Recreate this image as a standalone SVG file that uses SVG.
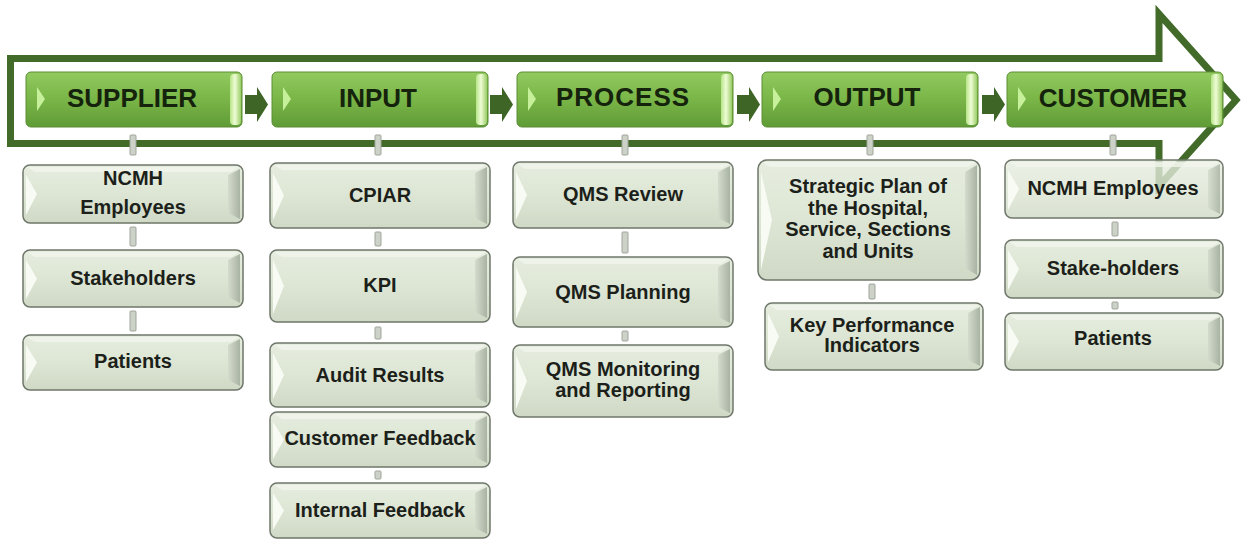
<svg xmlns="http://www.w3.org/2000/svg" xmlns:xlink="http://www.w3.org/1999/xlink" width="1245" height="541" viewBox="0 0 1245 541">
  <style>
    .frame { fill: none; stroke: #426b2a; stroke-width: 7; stroke-linejoin: miter; }
    .step-arrow { fill: #3f6526; }
    .hdr-face { fill: url(#hdrFace); stroke: #5b8d35; stroke-width: 1; }
    .hdr-tri { fill: #c6f099; }
    .hdr-cap { fill: url(#hdrCap); }
    .hdr-text { font-family: "Liberation Sans", Arial, sans-serif; font-weight: bold; font-size: 26px; fill: #15230d; text-anchor: middle; }
    .box-face { fill: url(#subFace); stroke: #6f776a; stroke-width: 1.5; }
    .box-tri { fill: #f8fbf4; }
    .box-right { fill: url(#subRight); }
    .box-top { fill: #f1f5ec; opacity: 0.8; }
    .box-text { font-family: "Liberation Sans", Arial, sans-serif; font-weight: bold; font-size: 20px; fill: #1c1f1a; text-anchor: middle; }
    .link { fill: #cdd2c9; stroke: #9fa59b; stroke-width: 1; }
  </style>
  <defs>
    <linearGradient id="hdrFace" x1="0" y1="0" x2="0" y2="1">
      <stop offset="0" stop-color="#92ca60"/>
      <stop offset="0.5" stop-color="#79b547"/>
      <stop offset="1" stop-color="#609c37"/>
    </linearGradient>
    <linearGradient id="hdrCap" x1="0" y1="0" x2="1" y2="0">
      <stop offset="0" stop-color="#b7e487"/>
      <stop offset="0.45" stop-color="#eefcd6"/>
      <stop offset="1" stop-color="#9bcd66"/>
    </linearGradient>
    <linearGradient id="subFace" x1="0" y1="0" x2="0" y2="1">
      <stop offset="0" stop-color="#e6ede0"/>
      <stop offset="0.5" stop-color="#dde6d4"/>
      <stop offset="1" stop-color="#cfd9c6"/>
    </linearGradient>
    <linearGradient id="subRight" x1="0" y1="0" x2="1" y2="0">
      <stop offset="0" stop-color="#d4dccd"/>
      <stop offset="1" stop-color="#a9b3a3"/>
    </linearGradient>
    <!-- green header tile, 216 x 55 -->
    <g id="hdr">
      <rect class="hdr-face" x="0" y="0" width="216" height="55" rx="5"/>
      <polygon class="hdr-tri" points="11,15 19,27 11,39"/>
      <rect class="hdr-cap" x="204" y="2" width="11" height="51" rx="4"/>
    </g>
    <!-- small step arrow between header tiles -->
    <polygon id="stepArrow" points="0,95 12,95 12,87 23,104.5 12,122 12,114 0,114"/>
  </defs>

  <!-- big process arrow outline -->
  <path class="frame" d="M10.5,58.5 H1159 V14 L1236,100 L1159,186 V143.5 H10.5 Z"/>

  <!-- connectors -->
  <g id="connectors">
    <use xlink:href="#stepArrow" class="step-arrow" x="245" y="0"/>
    <use xlink:href="#stepArrow" class="step-arrow" x="490" y="0"/>
    <use xlink:href="#stepArrow" class="step-arrow" x="737" y="0"/>
    <use xlink:href="#stepArrow" class="step-arrow" x="982" y="0"/>
    <!-- header to first item -->
    <rect class="link" x="130" y="135" width="6" height="20" rx="1"/>
    <rect class="link" x="375" y="135" width="6" height="20" rx="1"/>
    <rect class="link" x="622" y="135" width="6" height="20" rx="1"/>
    <rect class="link" x="867" y="135" width="6" height="20" rx="1"/>
    <rect class="link" x="1110" y="135" width="6" height="20" rx="1"/>
    <!-- supplier column -->
    <rect class="link" x="130" y="227" width="6" height="19" rx="1"/>
    <rect class="link" x="130" y="311" width="6" height="20" rx="1"/>
    <!-- input column -->
    <rect class="link" x="375" y="232" width="6" height="14" rx="1"/>
    <rect class="link" x="375" y="327" width="6" height="12" rx="1"/>
    <rect class="link" x="375" y="471" width="6" height="8" rx="1"/>
    <!-- process column -->
    <rect class="link" x="622" y="232" width="6" height="21" rx="1"/>
    <rect class="link" x="622" y="331" width="6" height="10" rx="1"/>
    <!-- output column -->
    <rect class="link" x="869" y="284" width="6" height="15" rx="1"/>
    <!-- customer column -->
    <rect class="link" x="1112" y="222" width="6" height="14" rx="1"/>
    <rect class="link" x="1112" y="302" width="6" height="7" rx="1"/>
  </g>

  <!-- header tiles -->
  <g id="supplier">
    <use xlink:href="#hdr" x="26" y="72"/>
    <text class="hdr-text" x="132" y="107">SUPPLIER</text>
  </g>
  <g id="input">
    <use xlink:href="#hdr" x="272" y="72"/>
    <text class="hdr-text" x="378" y="107">INPUT</text>
  </g>
  <g id="process">
    <use xlink:href="#hdr" x="517" y="72"/>
    <text class="hdr-text" x="623" y="106" letter-spacing="1">PROCESS</text>
  </g>
  <g id="output">
    <use xlink:href="#hdr" x="762" y="72"/>
    <text class="hdr-text" x="867" y="106">OUTPUT</text>
  </g>
  <g id="customer">
    <use xlink:href="#hdr" x="1007" y="72"/>
    <text class="hdr-text" x="1113" y="107">CUSTOMER</text>
  </g>

  <!-- supplier items -->
  <g id="sup-employees" transform="translate(23,165)">
    <rect class="box-face" width="220" height="58" rx="7"/>
    <polygon class="box-top" points="4,2 216,2 208,7 12,7"/>
    <polygon class="box-tri" points="3,10 14,29 3,50"/>
    <polygon class="box-right" points="217,4 205,10 205,48 217,54"/>
    <text class="box-text" x="110" y="20">NCMH</text>
    <text class="box-text" x="110" y="49">Employees</text>
  </g>
  <g id="sup-stakeholders" transform="translate(23,250)">
    <rect class="box-face" width="220" height="57" rx="7"/>
    <polygon class="box-top" points="4,2 216,2 208,7 12,7"/>
    <polygon class="box-tri" points="3,10 14,28.5 3,49"/>
    <polygon class="box-right" points="217,4 205,10 205,47 217,53"/>
    <text class="box-text" x="110" y="35">Stakeholders</text>
  </g>
  <g id="sup-patients" transform="translate(23,335)">
    <rect class="box-face" width="220" height="55" rx="7"/>
    <polygon class="box-top" points="4,2 216,2 208,7 12,7"/>
    <polygon class="box-tri" points="3,10 14,27.5 3,47"/>
    <polygon class="box-right" points="217,4 205,10 205,45 217,51"/>
    <text class="box-text" x="110" y="33">Patients</text>
  </g>

  <!-- input items -->
  <g id="in-cpiar" transform="translate(270,163)">
    <rect class="box-face" width="220" height="65" rx="7"/>
    <polygon class="box-top" points="4,2 216,2 208,7 12,7"/>
    <polygon class="box-tri" points="3,10 14,32.5 3,57"/>
    <polygon class="box-right" points="217,4 205,10 205,55 217,61"/>
    <text class="box-text" x="110" y="39">CPIAR</text>
  </g>
  <g id="in-kpi" transform="translate(270,250)">
    <rect class="box-face" width="220" height="72" rx="7"/>
    <polygon class="box-top" points="4,2 216,2 208,7 12,7"/>
    <polygon class="box-tri" points="3,10 14,36 3,64"/>
    <polygon class="box-right" points="217,4 205,10 205,62 217,68"/>
    <text class="box-text" x="110" y="42">KPI</text>
  </g>
  <g id="in-audit" transform="translate(270,343)">
    <rect class="box-face" width="220" height="64" rx="7"/>
    <polygon class="box-top" points="4,2 216,2 208,7 12,7"/>
    <polygon class="box-tri" points="3,10 14,32 3,56"/>
    <polygon class="box-right" points="217,4 205,10 205,54 217,60"/>
    <text class="box-text" x="110" y="39">Audit Results</text>
  </g>
  <g id="in-customer-feedback" transform="translate(270,412)">
    <rect class="box-face" width="220" height="55" rx="7"/>
    <polygon class="box-top" points="4,2 216,2 208,7 12,7"/>
    <polygon class="box-tri" points="3,10 14,27.5 3,47"/>
    <polygon class="box-right" points="217,4 205,10 205,45 217,51"/>
    <text class="box-text" x="110" y="33">Customer Feedback</text>
  </g>
  <g id="in-internal-feedback" transform="translate(270,483)">
    <rect class="box-face" width="220" height="55" rx="7"/>
    <polygon class="box-top" points="4,2 216,2 208,7 12,7"/>
    <polygon class="box-tri" points="3,10 14,27.5 3,47"/>
    <polygon class="box-right" points="217,4 205,10 205,45 217,51"/>
    <text class="box-text" x="110" y="34">Internal Feedback</text>
  </g>

  <!-- process items -->
  <g id="pr-review" transform="translate(513,162)">
    <rect class="box-face" width="220" height="66" rx="7"/>
    <polygon class="box-top" points="4,2 216,2 208,7 12,7"/>
    <polygon class="box-tri" points="3,10 14,33 3,58"/>
    <polygon class="box-right" points="217,4 205,10 205,56 217,62"/>
    <text class="box-text" x="110" y="39">QMS Review</text>
  </g>
  <g id="pr-planning" transform="translate(513,257)">
    <rect class="box-face" width="220" height="70" rx="7"/>
    <polygon class="box-top" points="4,2 216,2 208,7 12,7"/>
    <polygon class="box-tri" points="3,10 14,35 3,62"/>
    <polygon class="box-right" points="217,4 205,10 205,60 217,66"/>
    <text class="box-text" x="110" y="42">QMS Planning</text>
  </g>
  <g id="pr-monitoring" transform="translate(513,345)">
    <rect class="box-face" width="220" height="72" rx="7"/>
    <polygon class="box-top" points="4,2 216,2 208,7 12,7"/>
    <polygon class="box-tri" points="3,10 14,36 3,64"/>
    <polygon class="box-right" points="217,4 205,10 205,62 217,68"/>
    <text class="box-text" x="110" y="31">QMS Monitoring</text>
    <text class="box-text" x="110" y="52">and Reporting</text>
  </g>

  <!-- output items -->
  <g id="out-strategic-plan" transform="translate(758,160)">
    <rect class="box-face" width="222" height="120" rx="9"/>
    <polygon class="box-top" points="4,2 218,2 210,7 12,7"/>
    <polygon class="box-tri" points="3,12 14,60 3,110"/>
    <polygon class="box-right" points="219,5 207,12 207,108 219,115"/>
    <text class="box-text" x="110" y="33">Strategic Plan of</text>
    <text class="box-text" x="110" y="54.5">the Hospital,</text>
    <text class="box-text" x="110" y="76">Service, Sections</text>
    <text class="box-text" x="110" y="97.5">and Units</text>
  </g>
  <g id="out-kpi" transform="translate(765,303)">
    <rect class="box-face" width="218" height="67" rx="7"/>
    <polygon class="box-top" points="4,2 214,2 206,7 12,7"/>
    <polygon class="box-tri" points="3,10 14,33.5 3,59"/>
    <polygon class="box-right" points="215,4 203,10 203,57 215,63"/>
    <text class="box-text" x="107" y="29">Key Performance</text>
    <text class="box-text" x="107" y="49">Indicators</text>
  </g>

  <!-- customer items -->
  <g id="cu-employees" transform="translate(1005,160)">
    <rect class="box-face" width="218" height="58" rx="7" fill-opacity="0.8"/>
    <polygon class="box-top" points="4,2 214,2 206,7 12,7"/>
    <polygon class="box-tri" points="3,10 14,29 3,50"/>
    <polygon class="box-right" points="215,4 203,10 203,48 215,54" opacity="0.85"/>
    <text class="box-text" x="108" y="35">NCMH  Employees</text>
  </g>
  <g id="cu-stakeholders" transform="translate(1005,240)">
    <rect class="box-face" width="218" height="58" rx="7"/>
    <polygon class="box-top" points="4,2 214,2 206,7 12,7"/>
    <polygon class="box-tri" points="3,10 14,29 3,50"/>
    <polygon class="box-right" points="215,4 203,10 203,48 215,54"/>
    <text class="box-text" x="108" y="35">Stake-holders</text>
  </g>
  <g id="cu-patients" transform="translate(1005,313)">
    <rect class="box-face" width="218" height="57" rx="7"/>
    <polygon class="box-top" points="4,2 214,2 206,7 12,7"/>
    <polygon class="box-tri" points="3,10 14,28.5 3,49"/>
    <polygon class="box-right" points="215,4 203,10 203,47 215,53"/>
    <text class="box-text" x="108" y="32">Patients</text>
  </g>
</svg>
